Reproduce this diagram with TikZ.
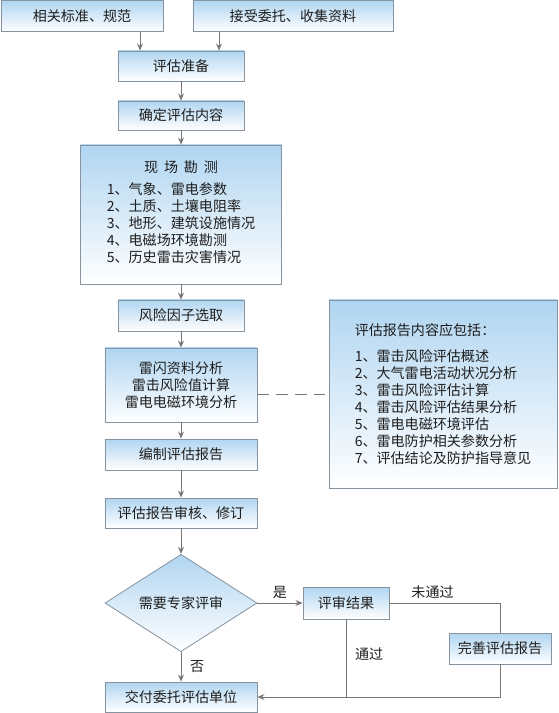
\documentclass[tikz,border=0pt]{standalone}
\usepackage{fontspec}
\newfontfamily\cjk{Noto Sans CJK SC}
\usetikzlibrary{shapes,arrows.meta,positioning}
\definecolor{boxblue}{RGB}{176,213,241}
\definecolor{edgegray}{RGB}{135,148,160}
\definecolor{linegray}{RGB}{118,118,118}
\definecolor{textdark}{RGB}{30,30,30}

\begin{document}
\begin{tikzpicture}[x=0.03cm, y=-0.03cm,
    every node/.style={font=\cjk\fontsize{12}{14.5}\selectfont, text=textdark, align=center},
    box/.style={draw=edgegray, line width=0.7pt, top color=boxblue, bottom color=white, inner sep=0pt},
    flow/.style={draw=linegray, line width=0.8pt},
    >={Stealth[length=6pt, width=5pt, inset=2pt]}]
        \useasboundingbox (0,0) rectangle (558,713);

        % inputs
        \node[box, minimum width=4.86cm, minimum height=0.93cm] (standards) at (82,16) {相关标准、规范};
        \node[box, minimum width=6cm, minimum height=0.93cm] (entrust) at (293,16) {接受委托、收集资料};
        \coordinate (in1) at (140,0);
        \coordinate (in2) at (219,0);

        % main flow
        \node[box, minimum width=3.78cm, minimum height=0.9cm] (prepare) at (181,66) {评估准备};
        \node[box, minimum width=3.78cm, minimum height=0.87cm] (content) at (181,115.5) {确定评估内容};
        \node[box, minimum width=6.03cm, minimum height=4.17cm] (survey) at (181,214.5)
            {现\hspace{5pt}场\hspace{5pt}勘\hspace{5pt}测\\[0.24cm]
             \begin{tabular}{@{}l@{}}1、气象、雷电参数\\2、土质、土壤电阻率\\3、地形、建筑设施情况\\4、电磁场环境勘测\\5、历史雷击灾害情况\end{tabular}};
        \node[box, minimum width=3.78cm, minimum height=0.93cm] (factor) at (181,315.5) {风险因子选取};
        \node[box, minimum width=4.56cm, minimum height=2.22cm] (analysis) at (181,385) {雷闪资料分析\\雷击风险值计算\\雷电电磁环境分析};
        \node[box, minimum width=4.56cm, minimum height=0.93cm] (compile) at (181,454.5) {编制评估报告};
        \node[box, minimum width=4.56cm, minimum height=0.9cm] (review) at (181,513) {评估报告审核、修订};
        \node[box, diamond, minimum width=4.56cm, minimum height=2.4cm] (expert) at (181,603) {需要专家评审};
        \node[box, minimum width=2.58cm, minimum height=0.96cm] (result) at (346,603) {评审结果};
        \node[box, minimum width=3.06cm, minimum height=0.93cm] (improve) at (500,648.5) {完善评估报告};
        \node[box, minimum width=4.56cm, minimum height=0.9cm] (deliver) at (181,697) {交付委托评估单位};

        % report contents
        \node[box, align=left, minimum width=6.84cm, minimum height=5.64cm] (report) at (443,394)
            {评估报告内容应包括：\\[0.27cm]
             1、雷击风险评估概述\\2、大气雷电活动状况分析\\3、雷击风险评估计算\\4、雷击风险评估结果分析\\
             5、雷电电磁环境评估\\6、雷电防护相关参数分析\\7、评估结论及防护指导意见};

        \draw[flow, ->] (standards.south -| in1) -- (in1 |- prepare.north);
        \draw[flow, ->] (entrust.south -| in2) -- (in2 |- prepare.north);
        \draw[flow, ->] (prepare) -- (content);
        \draw[flow, ->] (content) -- (survey);
        \draw[flow, ->] (survey) -- (factor);
        \draw[flow, ->] (factor) -- (analysis);
        \draw[flow, ->] (analysis) -- (compile);
        \draw[flow, ->] (compile) -- (review);
        \draw[flow, ->] (review) -- (expert);
        \draw[flow, dash pattern=on 10pt off 6pt] (analysis.east |- report.west) -- (report.west);

        \draw[flow, ->] (expert) -- node[above]{是} (result);
        \draw[flow, ->] (expert) -- node[right=4pt]{否} (deliver);
        \draw[flow] (result) -- node[above, pos=0.39]{未通过} (result -| improve) -- (improve);
        \draw[flow] (result) -- node[right=4pt, pos=0.45]{通过} (result |- deliver);
        \draw[flow, ->] (improve) -- (improve |- deliver) -- (deliver);
\end{tikzpicture}
\end{document}
